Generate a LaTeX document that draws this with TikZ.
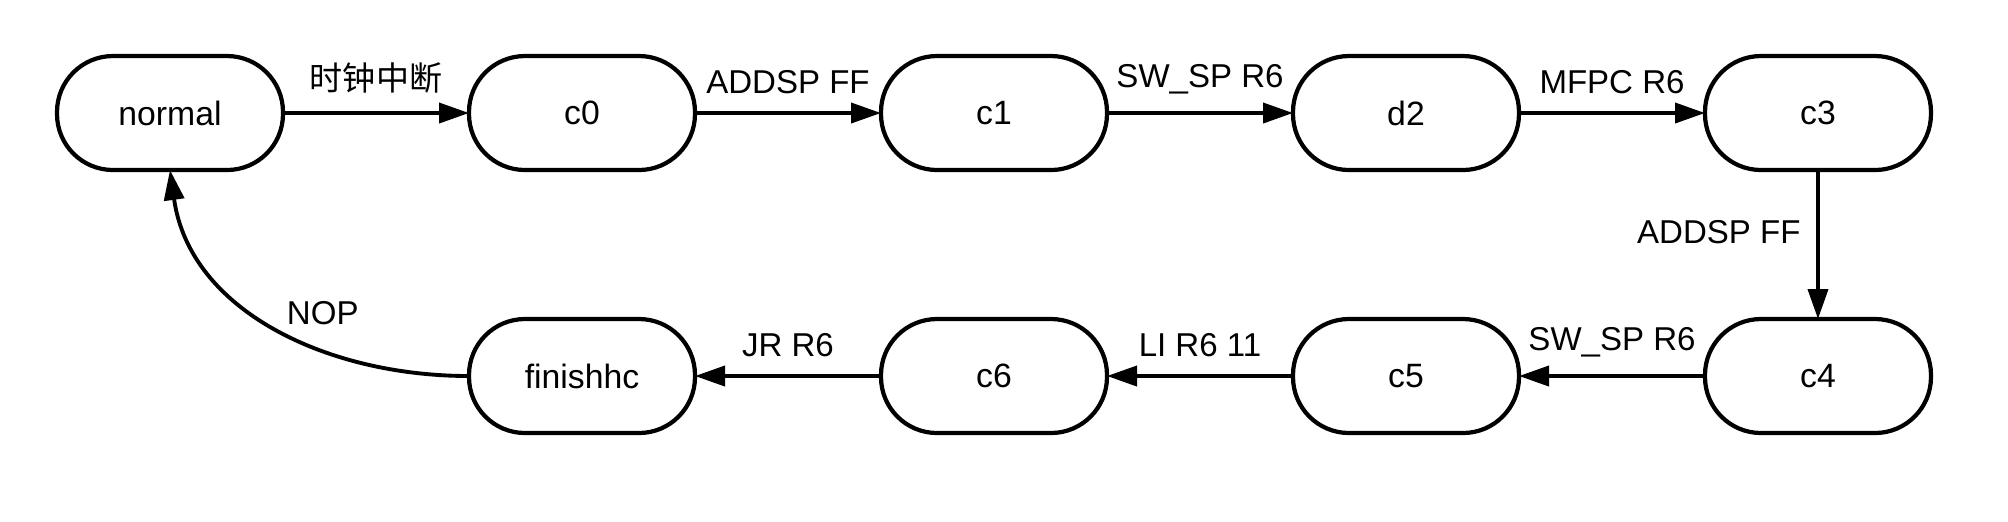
\documentclass[tikz,border=0pt]{standalone}
\usepackage{fontspec}
\setmainfont{Liberation Sans}
\newfontfamily\cjkfont{Noto Sans CJK SC}
\usetikzlibrary{
    positioning,
    arrows.meta
}
\tikzset{%
    state/.style={%
        rectangle,
        draw,
        line width=1.2pt,
        rounded corners=0.56cm,
        inner sep = 0pt,
        outer sep = 0pt,
        minimum width=2.26cm,
        minimum height=1.14cm,
        font=\fontsize{9.6}{11}\selectfont
    },
    transition/.style={%
        line width=1.1pt,
        -{Triangle[length=0.3cm, width=0.2cm]},
    },
    label text/.style={%
        font=\fontsize{9.4}{11}\selectfont,
        inner sep = 1pt,
    },
}

\begin{document}
\begin{tikzpicture}[node distance=1.86cm and 1.86cm]

    \useasboundingbox (0,0) rectangle (20.08,-5.21);

    \node[state] at (1.70,-1.13) (normal) {normal};
    \node[state, right=of normal] (c0) {c0};
    \node[state, right=of c0] (c1) {c1};
    \node[state, right=of c1] (d2) {d2};
    \node[state, right=of d2] (c3) {c3};

    \node[state, below=1.49cm of c3] (c4) {c4};
    \node[state, left=of c4] (c5) {c5};
    \node[state, left=of c5] (c6) {c6};
    \node[state, left=of c6] (finishhc) {finishhc};

    \draw[transition] (normal) to node[label text, above=0.14cm] {\cjkfont 时钟中断} (c0);
    \draw[transition] (c0) to node[label text, above=0.14cm] {ADDSP FF} (c1);
    \draw[transition] (c1) to node[label text, above=0.14cm] {SW\_SP R6} (d2);
    \draw[transition] (d2) to node[label text, above=0.14cm] {MFPC R6} (c3);
    \draw[transition] (c3) to node[label text, left=0.12cm, yshift=0.12cm] {ADDSP FF} (c4);

    \draw[transition] (c4) to node[label text, above=0.14cm] {SW\_SP R6} (c5);
    \draw[transition] (c5) to node[label text, above=0.14cm] {LI R6 11} (c6);
    \draw[transition] (c6) to node[label text, above=0.14cm] {JR R6} (finishhc);
    \draw[transition] (finishhc.west) to[out=180, in=-82]
        node[label text, pos=0.36, above=0.2cm] {NOP} (normal.south);
\end{tikzpicture}
\end{document}
